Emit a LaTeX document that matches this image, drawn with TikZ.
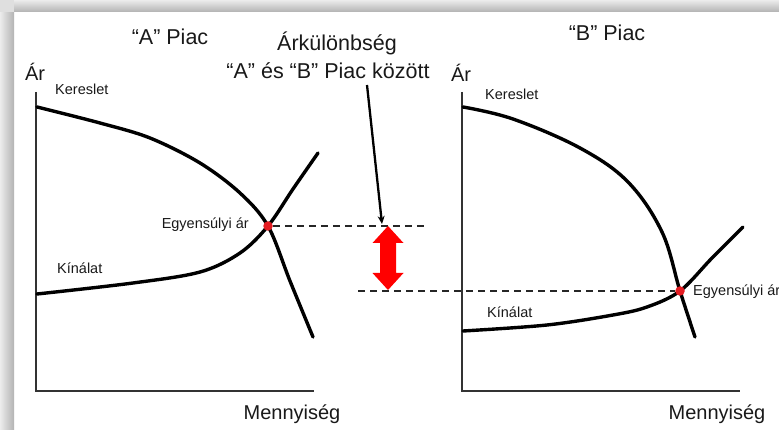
\documentclass[tikz,border=0pt]{standalone}
\usepackage{fontspec}
\setmainfont{Liberation Sans}
\usepackage{xcolor}
\usetikzlibrary{arrows.meta, positioning}
\definecolor{dotred}{RGB}{228,28,34}
\definecolor{gapred}{RGB}{255,0,0}

\tikzset{
  curve/.style={black, line width=3.4pt, line cap=round, line join=round},
  axis/.style={black!80, line width=1.7pt},
  guide/.style={black!85, line width=1.6pt, dash pattern=on 7pt off 5pt},
  eqdot/.style={circle, fill=dotred, inner sep=0pt, minimum size=9.5pt},
  lbl/.style={inner sep=0pt, text=black!90},
  title/.style={lbl, font=\fontsize{21.5}{24}\selectfont},
  axislabel/.style={lbl, font=\fontsize{20}{22}\selectfont},
  small/.style={lbl, font=\fontsize{14.5}{16}\selectfont}
}

\begin{document}
\begin{tikzpicture}[x=1pt, y=-1pt]
    \useasboundingbox (0,0) rectangle (779,430);

    % Frame shadow (left and top bands)
    \shade[left color=gray!15, right color=gray!60] (0,12) rectangle (14,430);
    \shade[top color=gray!15, bottom color=gray!60] (14,0) rectangle (779,12);
    \fill[gray!25] (0,0) rectangle (14,12);

    % Axes of both markets
    \coordinate (yA) at (36,92);
    \coordinate (oA) at (36,391);
    \coordinate (xA) at (314,391);
    \coordinate (yB) at (462,92);
    \coordinate (oB) at (462,391);
    \coordinate (xB) at (740,391);
    \draw[axis] (yA) -- (oA) -- (xA);
    \draw[axis] (yB) -- (oB) -- (xB);

    % Market A: demand and supply
    \draw[curve] plot[smooth, tension=0.55] coordinates
      {(37,107) (100,123) (150,138) (200,163) (240,193) (268,226) (290,281) (313,337)};
    \draw[curve] plot[smooth, tension=0.55] coordinates
      {(37,294) (133,283) (200,272) (240,253) (268,226) (293,189) (318,153)};

    % Market B: demand and supply
    \draw[curve] plot[smooth, tension=0.6] coordinates
      {(463,107) (513,119) (580,148) (628,182) (662,232) (680,291) (695,337)};
    \draw[curve] plot[smooth, tension=0.55] coordinates
      {(463,331) (547,325) (613,315) (647,307) (680,291) (712,258) (743,227)};

    % Equilibrium points
    \node[eqdot] (eqA) at (268,226) {};
    \node[eqdot] (eqB) at (680,291) {};

    % Price levels carried across
    \coordinate (gapTop) at (388,226);
    \coordinate (gapBot) at (388,291);
    \coordinate (guideEndA) at (428,226);
    \coordinate (guideStartB) at (358,291);
    \draw[guide] (eqA) -- (guideEndA);
    \draw[guide] (guideStartB) -- (eqB);

    % Red double arrow between the two prices
    \fill[gapred] (388,226) -- (403.5,243) -- (396,243) -- (396,273) -- (403.5,273)
      -- (388,290) -- (372.5,273) -- (380,273) -- (380,243) -- (372.5,243) -- cycle;

    % Pointer from the caption
    \coordinate (noteTail) at (367,85);
    \coordinate (noteTip) at (382,224);
    \draw[black, line width=2.3pt, -{Stealth[length=8pt, width=7pt]}] (noteTail) -- (noteTip);

    % Titles
    \node[title, anchor=base] (titleA) at (170,45) {“A” Piac};
    \node[title, anchor=base] (titleB) at (607,41) {“B” Piac};
    \node[title, anchor=base] (gapTitle) at (337,51) {Árkülönbség};
    \node[title, anchor=base] (gapSub) at (328,79) {“A” és “B” Piac között};

    % Axis labels
    \node[axislabel, anchor=base] (priceA) at (35,81) {Ár};
    \node[axislabel, anchor=base] (priceB) at (461,82) {Ár};
    \node[axislabel, anchor=base] (qtyA) at (292,419) {Mennyiség};
    \node[axislabel, anchor=base] (qtyB) at (717,419) {Mennyiség};

    % Curve labels
    \node[small, anchor=base west] (demA) at (55,95) {Kereslet};
    \node[small, anchor=base west] (demB) at (485,100) {Kereslet};
    \node[small, anchor=base west] (supA) at (57,274) {Kínálat};
    \node[small, anchor=base west] (supB) at (487,318) {Kínálat};
    \node[small, anchor=base east] (eqLabelA) at (249,229) {Egyensúlyi ár};
    \node[small, anchor=base west] (eqLabelB) at (693,296) {Egyensúlyi ár};
\end{tikzpicture}
\end{document}
